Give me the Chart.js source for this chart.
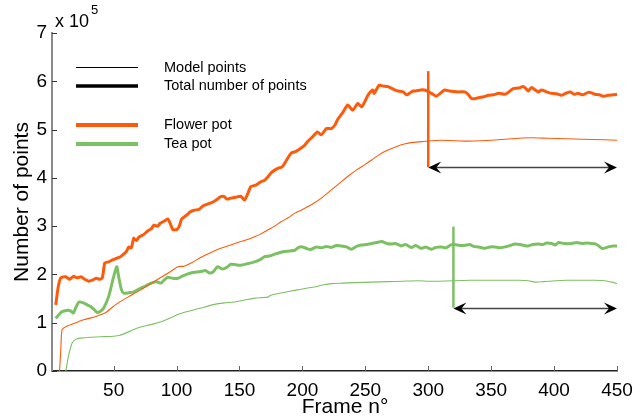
<!DOCTYPE html>
<html>
<head>
<meta charset="utf-8">
<script src="https://cdn.jsdelivr.net/npm/chart.js@4"></script>
<style>
  html, body { margin: 0; padding: 0; background: #fff; }
  #wrap { width: 643px; height: 418px; }
</style>
</head>
<body>
<div id="wrap"><canvas id="chart"></canvas></div>
<script>
// values are in units of 10^5 points
const flowerTotalFrames = [4, 6, 8, 12, 15, 18, 21, 24, 27, 30, 33, 36, 39, 41, 43, 46, 49, 52, 55, 57, 60, 62, 64, 66, 68, 70, 74, 77, 80, 82, 85, 87, 90, 93, 95, 97, 100, 102, 104, 106, 109, 111, 114, 118, 121, 123, 126, 129, 132, 135, 138, 140, 143, 147, 151, 154, 157, 159, 163, 167, 170, 172.5, 175, 178, 181, 184, 187, 191, 195, 199, 202, 204, 208, 212, 215, 219, 223, 226, 228, 232, 236, 240, 244, 247, 250, 252, 256, 257, 261, 264, 268, 272, 276, 280, 283, 285, 288, 290, 294, 297, 300, 302.5, 306.5, 309, 313, 317, 320, 324, 329, 332, 334, 337, 340, 344, 348, 352, 356, 361, 364, 367.5, 372, 375.5, 378, 379.5, 382, 385, 387.5, 390, 394, 398, 402, 406, 410, 413, 416, 419, 423, 427, 430, 432.5, 436, 439, 443, 447, 450];
const flowerTotal = [1.37, 1.75, 1.93, 1.95, 1.9, 1.96, 1.93, 1.95, 1.9, 1.86, 1.88, 1.92, 1.9, 1.93, 2.24, 2.26, 2.3, 2.33, 2.36, 2.4, 2.47, 2.57, 2.55, 2.75, 2.7, 2.77, 2.83, 2.9, 2.95, 3.02, 3.0, 3.06, 3.1, 3.15, 3.05, 2.93, 2.93, 2.99, 3.15, 3.19, 3.25, 3.3, 3.33, 3.35, 3.42, 3.44, 3.47, 3.5, 3.55, 3.61, 3.61, 3.56, 3.58, 3.6, 3.62, 3.54, 3.7, 3.82, 3.85, 3.92, 3.95, 4.02, 4.1, 4.16, 4.2, 4.23, 4.35, 4.51, 4.55, 4.62, 4.68, 4.75, 4.85, 4.95, 4.89, 5.02, 5.02, 5.1, 5.21, 5.35, 5.51, 5.4, 5.54, 5.47, 5.6, 5.71, 5.82, 5.75, 5.92, 5.9, 5.89, 5.84, 5.8, 5.78, 5.72, 5.75, 5.8, 5.8, 5.82, 5.82, 5.79, 5.75, 5.69, 5.74, 5.82, 5.8, 5.79, 5.78, 5.78, 5.72, 5.65, 5.64, 5.66, 5.68, 5.71, 5.72, 5.75, 5.73, 5.78, 5.85, 5.86, 5.89, 5.84, 5.8, 5.87, 5.82, 5.78, 5.82, 5.78, 5.75, 5.74, 5.71, 5.76, 5.78, 5.73, 5.75, 5.72, 5.77, 5.76, 5.73, 5.72, 5.69, 5.71, 5.72, 5.73];

const flowerModelFrames = [7, 8, 9, 13, 20, 26, 32, 37, 43, 48, 53, 62, 71.5, 80, 87, 94, 101, 106, 112, 119, 127, 135, 143, 151, 157, 162, 167, 172.5, 178, 183, 189, 194, 199, 204, 210, 215, 223, 230, 237, 244, 250, 255, 260, 265, 270, 276, 281, 286.5, 295, 302.5, 310.5, 320, 329, 342, 350, 361, 372, 382, 395, 410, 422, 440, 450];
const flowerModel = [0, 0.45, 0.85, 0.93, 1.0, 1.06, 1.1, 1.14, 1.2, 1.3, 1.4, 1.54, 1.68, 1.82, 1.93, 2.04, 2.16, 2.17, 2.24, 2.35, 2.45, 2.54, 2.61, 2.68, 2.73, 2.78, 2.84, 2.92, 3.0, 3.09, 3.18, 3.27, 3.33, 3.4, 3.49, 3.58, 3.75, 3.9, 4.05, 4.18, 4.28, 4.37, 4.46, 4.54, 4.6, 4.66, 4.7, 4.73, 4.75, 4.77, 4.78, 4.77, 4.76, 4.77, 4.78, 4.8, 4.82, 4.83, 4.82, 4.81, 4.8, 4.79, 4.78];

const teaTotalFrames = [4, 7, 9, 14, 16, 18, 20, 22.5, 26, 29, 32, 35, 37, 40, 42, 46, 49, 52.4, 54, 56, 58, 62, 66, 69, 72, 76, 80, 84, 87.5, 90, 93, 97, 101, 105, 109, 113, 119, 123, 126, 129, 132.6, 136.6, 140, 143, 147, 151, 156, 162, 166, 170, 174, 178, 183, 188, 194, 197, 200, 204, 207, 211, 215, 219, 223, 227, 231, 235, 239, 243, 247, 251, 255, 259, 263, 267, 270.6, 274, 278.6, 282, 286.6, 290, 294.5, 298, 302.5, 306, 310.5, 314, 318, 321, 325, 329, 333, 336, 340, 343, 345, 349, 353, 357, 361, 365, 369, 373, 376, 379.5, 383, 387.5, 391, 394, 398, 401, 403.5, 408, 414, 418, 422, 426, 430, 434, 438, 441, 443, 447, 450];
const teaTotal = [1.09, 1.18, 1.23, 1.26, 1.24, 1.2, 1.32, 1.43, 1.41, 1.37, 1.33, 1.26, 1.21, 1.25, 1.3, 1.54, 1.85, 2.16, 1.95, 1.7, 1.61, 1.62, 1.64, 1.68, 1.72, 1.77, 1.82, 1.85, 1.82, 1.88, 1.94, 1.92, 1.92, 1.97, 2.01, 2.04, 2.06, 2.08, 2.03, 2.05, 2.16, 2.11, 2.15, 2.21, 2.2, 2.19, 2.22, 2.26, 2.3, 2.37, 2.38, 2.42, 2.46, 2.48, 2.5, 2.56, 2.57, 2.53, 2.52, 2.57, 2.55, 2.58, 2.56, 2.6, 2.59, 2.57, 2.52, 2.58, 2.61, 2.62, 2.64, 2.66, 2.68, 2.64, 2.63, 2.64, 2.59, 2.62, 2.56, 2.6, 2.54, 2.57, 2.52, 2.56, 2.57, 2.55, 2.61, 2.62, 2.6, 2.6, 2.62, 2.58, 2.57, 2.55, 2.54, 2.57, 2.57, 2.55, 2.57, 2.6, 2.63, 2.62, 2.6, 2.59, 2.62, 2.63, 2.62, 2.65, 2.64, 2.61, 2.66, 2.64, 2.64, 2.66, 2.64, 2.65, 2.64, 2.62, 2.54, 2.55, 2.57, 2.59, 2.59];

const teaModelFrames = [12, 14, 17, 20, 23.7, 31.7, 40, 50, 55, 61, 66, 71.5, 79.5, 85, 90, 95, 101, 107, 114, 122, 130, 138, 146, 154, 162, 168, 172.5, 175, 178, 186, 194, 202, 209.5, 216, 223, 232, 241.5, 255, 268, 280, 292, 300, 308, 320, 334, 348, 361, 372, 379.5, 385, 392, 401, 410, 422, 432, 440.5, 446, 450];
const teaModel = [0, 0.3, 0.58, 0.66, 0.68, 0.7, 0.71, 0.72, 0.74, 0.8, 0.86, 0.91, 0.96, 1.0, 1.04, 1.1, 1.17, 1.22, 1.27, 1.32, 1.38, 1.41, 1.43, 1.47, 1.51, 1.52, 1.53, 1.57, 1.59, 1.63, 1.67, 1.71, 1.74, 1.78, 1.81, 1.82, 1.83, 1.84, 1.85, 1.86, 1.87, 1.86, 1.86, 1.87, 1.88, 1.88, 1.88, 1.88, 1.87, 1.84, 1.85, 1.87, 1.88, 1.88, 1.88, 1.87, 1.84, 1.81];

// convergence markers: frame, top and bottom of the vertical line, arrow end frame
const markerFrames = [300, 320];
const markerTop = [6.21, 2.99];
const markerBottom = [4.22, 1.31];
const arrowEnd = 450;

const xTicks = [50, 100, 150, 200, 250, 300, 350, 400, 450];
const yTicks = [0, 1, 2, 3, 4, 5, 6, 7];

const orange = "#ff5a0a";
const green = "#7cc064";
const font = "'Liberation Sans', Arial, sans-serif";

function toPoints(frames, values) {
    return frames.map((f, i) => ({ x: f, y: values[i] }));
}

const datasets = [
    { label: "Flower pot marker", data: [{ x: markerFrames[0], y: markerBottom[0] }, { x: markerFrames[0], y: markerTop[0] }], borderColor: orange, borderWidth: 2.5 },
    { label: "Tea pot marker", data: [{ x: markerFrames[1], y: markerBottom[1] }, { x: markerFrames[1], y: markerTop[1] }], borderColor: green, borderWidth: 2.5 },
    { label: "Flower pot total", data: toPoints(flowerTotalFrames, flowerTotal), borderColor: orange, borderWidth: 3 },
    { label: "Flower pot model", data: toPoints(flowerModelFrames, flowerModel), borderColor: orange, borderWidth: 1.1 },
    { label: "Tea pot total", data: toPoints(teaTotalFrames, teaTotal), borderColor: green, borderWidth: 3 },
    { label: "Tea pot model", data: toPoints(teaModelFrames, teaModel), borderColor: green, borderWidth: 1.1 }
];
datasets.forEach(d => { d.pointRadius = 0; d.tension = 0.2; d.fill = false; d.borderJoinStyle = "round"; d.borderCapStyle = "butt"; });

function arrowHead(ctx, x, y, dir) {
    ctx.beginPath();
    ctx.moveTo(x, y);
    ctx.lineTo(x - dir * 13, y - 6);
    ctx.lineTo(x - dir * 8, y);
    ctx.lineTo(x - dir * 13, y + 6);
    ctx.closePath();
    ctx.fill();
}

const decorations = {
    id: "decorations",
    afterDraw(chart) {
        const ctx = chart.ctx;
        const xs = chart.scales.x, ys = chart.scales.y;
        const area = chart.chartArea;
        ctx.save();

        // inward tick marks
        ctx.strokeStyle = "#333";
        ctx.lineWidth = 1;
        yTicks.forEach(v => {
            const py = Math.round(ys.getPixelForValue(v)) + 0.5;
            ctx.beginPath(); ctx.moveTo(area.left, py); ctx.lineTo(area.left + 5, py); ctx.stroke();
        });
        ctx.strokeStyle = "#666";
        xTicks.forEach(v => {
            const px = Math.round(xs.getPixelForValue(v)) + 0.5;
            ctx.beginPath(); ctx.moveTo(px, area.bottom); ctx.lineTo(px, area.bottom - 5); ctx.stroke();
        });

        // arrows showing the converged range
        markerFrames.forEach((f, i) => {
            const x0 = xs.getPixelForValue(f);
            const x1 = xs.getPixelForValue(arrowEnd);
            const y = Math.round(ys.getPixelForValue(markerBottom[i])) + 0.5;
            ctx.strokeStyle = "#444";
            ctx.lineWidth = 1.5;
            ctx.beginPath(); ctx.moveTo(x0 + 6, y); ctx.lineTo(x1 - 6, y); ctx.stroke();
            ctx.fillStyle = "#000";
            arrowHead(ctx, x0, y, -1);
            arrowHead(ctx, x1, y, 1);
        });

        // legend
        const legend = [
            { text: "Model points", color: "#000", width: 1, y: 67.5 },
            { text: "Total number of points", color: "#000", width: 3.5, y: 86 },
            { text: "Flower pot", color: orange, width: 4, y: 125 },
            { text: "Tea pot", color: green, width: 4, y: 144 }
        ];
        ctx.font = "14.5px " + font;
        ctx.textBaseline = "middle";
        ctx.textAlign = "left";
        legend.forEach(item => {
            ctx.strokeStyle = item.color;
            ctx.lineWidth = item.width;
            ctx.beginPath(); ctx.moveTo(76, item.y); ctx.lineTo(138, item.y); ctx.stroke();
            ctx.fillStyle = "#000";
            ctx.fillText(item.text, 164, Math.round(item.y));
        });

        // exponent label
        ctx.textBaseline = "alphabetic";
        ctx.font = "18px " + font;
        ctx.fillText("x 10", 55, 27);
        ctx.font = "13px " + font;
        ctx.fillText("5", 91, 14);

        // axis titles
        ctx.font = "21px " + font;
        ctx.textAlign = "center";
        ctx.fillText("Frame n°", 345, 413);
        ctx.translate(28, 202);
        ctx.rotate(-Math.PI / 2);
        ctx.fillText("Number of points", 0, 0);
        ctx.restore();
    }
};

new Chart(document.getElementById("chart"), {
    type: "line",
    data: { datasets },
    options: {
        responsive: true,
        maintainAspectRatio: false,
        animation: false,
        layout: { padding: { top: 33, right: 26, left: 0, bottom: 0 } },
        plugins: { legend: { display: false }, tooltip: { enabled: false } },
        scales: {
            x: {
                type: "linear",
                min: 1,
                max: 450,
                afterBuildTicks: s => { s.ticks = xTicks.map(v => ({ value: v })); },
                afterFit: s => { s.height = 47; },
                grid: { display: false, drawTicks: false },
                border: { display: true, color: "#222", width: 1.5 },
                ticks: { color: "#000", padding: 8, font: { family: font, size: 19 }, maxRotation: 0 }
            },
            y: {
                type: "linear",
                min: 0,
                max: 7,
                afterBuildTicks: s => { s.ticks = yTicks.map(v => ({ value: v })); },
                afterFit: s => { s.width = 52; },
                grid: { display: false, drawTicks: false },
                border: { display: true, color: "#8a8a8a", width: 2 },
                ticks: { color: "#000", padding: 5, font: { family: font, size: 19 } }
            }
        }
    },
    plugins: [decorations]
});
</script>
</body>
</html>
